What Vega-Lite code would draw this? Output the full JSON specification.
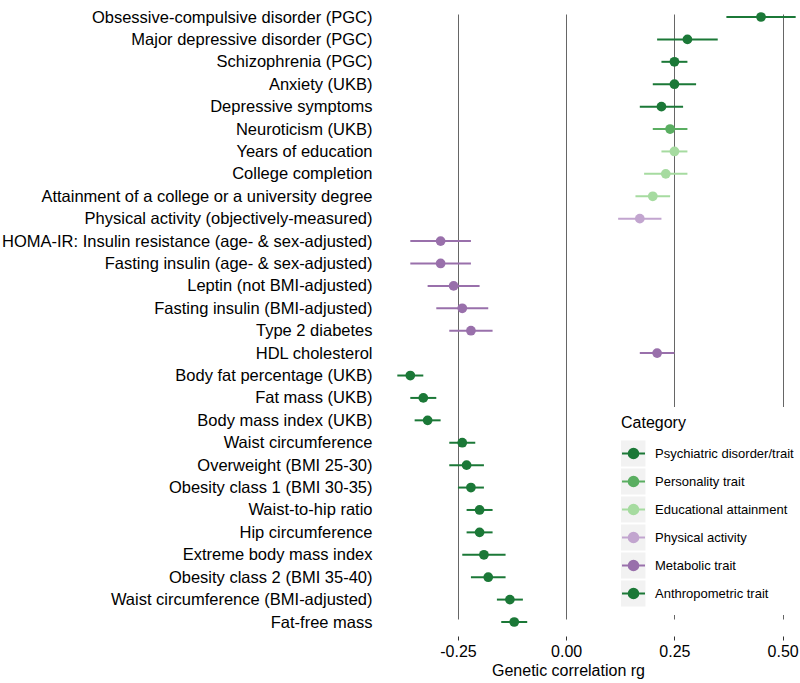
{
  "$schema": "https://vega.github.io/schema/vega-lite/v6.json",
  "width": 420,
  "height": 636,
  "autosize": {"type": "none"},
  "padding": {"left": 380, "top": 0, "right": 0, "bottom": 47},
  "background": "white",
  "config": {"view": {"stroke": null}, "font": "Liberation Sans"},
  "data": {"values": [
    {"trait": "Obsessive-compulsive disorder (PGC)", "category": "Psychiatric disorder/trait", "rg": 0.45, "lo": 0.37, "hi": 0.53},
    {"trait": "Major depressive disorder (PGC)", "category": "Psychiatric disorder/trait", "rg": 0.28, "lo": 0.21, "hi": 0.35},
    {"trait": "Schizophrenia (PGC)", "category": "Psychiatric disorder/trait", "rg": 0.25, "lo": 0.22, "hi": 0.28},
    {"trait": "Anxiety (UKB)", "category": "Psychiatric disorder/trait", "rg": 0.25, "lo": 0.20, "hi": 0.30},
    {"trait": "Depressive symptoms", "category": "Psychiatric disorder/trait", "rg": 0.22, "lo": 0.17, "hi": 0.27},
    {"trait": "Neuroticism (UKB)", "category": "Personality trait", "rg": 0.24, "lo": 0.20, "hi": 0.28},
    {"trait": "Years of education", "category": "Educational attainment", "rg": 0.25, "lo": 0.22, "hi": 0.28},
    {"trait": "College completion", "category": "Educational attainment", "rg": 0.23, "lo": 0.18, "hi": 0.28},
    {"trait": "Attainment of a college or a university degree", "category": "Educational attainment", "rg": 0.20, "lo": 0.16, "hi": 0.24},
    {"trait": "Physical activity (objectively-measured)", "category": "Physical activity", "rg": 0.17, "lo": 0.12, "hi": 0.22},
    {"trait": "HOMA-IR: Insulin resistance (age- & sex-adjusted)", "category": "Metabolic trait", "rg": -0.29, "lo": -0.36, "hi": -0.22},
    {"trait": "Fasting insulin (age- & sex-adjusted)", "category": "Metabolic trait", "rg": -0.29, "lo": -0.36, "hi": -0.22},
    {"trait": "Leptin (not BMI-adjusted)", "category": "Metabolic trait", "rg": -0.26, "lo": -0.32, "hi": -0.20},
    {"trait": "Fasting insulin (BMI-adjusted)", "category": "Metabolic trait", "rg": -0.24, "lo": -0.30, "hi": -0.18},
    {"trait": "Type 2 diabetes", "category": "Metabolic trait", "rg": -0.22, "lo": -0.27, "hi": -0.17},
    {"trait": "HDL cholesterol", "category": "Metabolic trait", "rg": 0.21, "lo": 0.17, "hi": 0.25},
    {"trait": "Body fat percentage (UKB)", "category": "Anthropometric trait", "rg": -0.36, "lo": -0.39, "hi": -0.33},
    {"trait": "Fat mass (UKB)", "category": "Anthropometric trait", "rg": -0.33, "lo": -0.36, "hi": -0.30},
    {"trait": "Body mass index (UKB)", "category": "Anthropometric trait", "rg": -0.32, "lo": -0.35, "hi": -0.29},
    {"trait": "Waist circumference", "category": "Anthropometric trait", "rg": -0.24, "lo": -0.27, "hi": -0.21},
    {"trait": "Overweight (BMI 25-30)", "category": "Anthropometric trait", "rg": -0.23, "lo": -0.27, "hi": -0.19},
    {"trait": "Obesity class 1 (BMI 30-35)", "category": "Anthropometric trait", "rg": -0.22, "lo": -0.25, "hi": -0.19},
    {"trait": "Waist-to-hip ratio", "category": "Anthropometric trait", "rg": -0.20, "lo": -0.23, "hi": -0.17},
    {"trait": "Hip circumference", "category": "Anthropometric trait", "rg": -0.20, "lo": -0.23, "hi": -0.17},
    {"trait": "Extreme body mass index", "category": "Anthropometric trait", "rg": -0.19, "lo": -0.24, "hi": -0.14},
    {"trait": "Obesity class 2 (BMI 35-40)", "category": "Anthropometric trait", "rg": -0.18, "lo": -0.22, "hi": -0.14},
    {"trait": "Waist circumference (BMI-adjusted)", "category": "Anthropometric trait", "rg": -0.13, "lo": -0.16, "hi": -0.10},
    {"trait": "Fat-free mass", "category": "Anthropometric trait", "rg": -0.12, "lo": -0.15, "hi": -0.09}
  ]},
  "encoding": {
    "y": {
      "field": "trait", "type": "nominal", "sort": null,
      "scale": {"type": "point", "range": [17, 622], "padding": 0},
      "axis": {"title": null, "domain": false, "ticks": false, "grid": false, "labelFontSize": 16.5, "labelColor": "black", "labelPadding": 8, "labelLimit": 420}
    }
  },
  "resolve": {"legend": {"color": "independent"}},
  "layer": [
    {
      "mark": {"type": "rule", "strokeWidth": 2},
      "encoding": {
        "x": {
          "field": "lo", "type": "quantitative",
          "scale": {"domain": [-0.43, 0.54], "nice": false, "zero": false},
          "axis": {
            "title": "Genetic correlation rg",
            "values": [-0.25, 0, 0.25, 0.5],
            "labelExpr": "replace(format(datum.value, '.2f'), '\u2212', '-')",
            "grid": true, "gridColor": "#666666", "gridWidth": 1,
            "domain": false, "tickColor": "#333333", "tickSize": 4,
            "labelFontSize": 16, "labelColor": "black", "labelPadding": 3,
            "titleFontSize": 16, "titleFontWeight": "normal", "titleColor": "black",
            "titlePadding": 3, "titleX": 188, "titleAlign": "center"
          }
        },
        "x2": {"field": "hi"},
        "color": {
          "field": "category", "type": "nominal",
          "scale": {
            "domain": ["Psychiatric disorder/trait", "Personality trait", "Educational attainment", "Physical activity", "Metabolic trait", "Anthropometric trait"],
            "range": ["#1b7837", "#5aae61", "#a6dba0", "#c2a5cf", "#9970ab", "#1b7837"]
          },
          "legend": {
            "title": "Category", "orient": "none", "legendX": 233, "legendY": 407,
            "fillColor": "white", "padding": 8,
            "titleFontSize": 16, "titleFontWeight": "normal", "titleColor": "black", "titlePadding": 9,
            "labelFontSize": 13, "labelColor": "black", "labelOffset": 11,
            "symbolType": "M -1.13 -1.13 L 1.13 -1.13 L 1.13 1.13 L -1.13 1.13 Z",
            "symbolSize": 529, "rowPadding": 1, "clipHeight": 27,
            "encode": {
              "symbols": {"update": {
                "fill": {"value": "#f2f2f2"},
                "stroke": {"value": "transparent"},
                "strokeWidth": {"value": 0},
                "opacity": {"value": 1}
              }}
            }
          }
        }
      }
    },
    {
      "mark": {"type": "rule", "strokeWidth": 2, "opacity": 0},
      "encoding": {
        "x": {"field": "lo", "type": "quantitative"},
        "x2": {"field": "hi"},
        "color": {
          "field": "category", "type": "nominal",
          "legend": {
            "title": null, "orient": "none", "legendX": 233, "legendY": 432,
            "padding": 8,
            "labelFontSize": 13, "labelExpr": "''", "labelOffset": 11,
            "symbolType": "M -1 0 L 1 0 M -0.42 0 A 0.42 0.42 0 1 0 0.42 0 A 0.42 0.42 0 1 0 -0.42 0 Z",
            "symbolSize": 529, "rowPadding": 1, "clipHeight": 27,
            "encode": {
              "symbols": {"update": {
                "stroke": {"scale": "color", "field": "value"},
                "fill": {"scale": "color", "field": "value"},
                "strokeWidth": {"value": 2},
                "strokeOpacity": {"value": 1},
                "fillOpacity": {"value": 1},
                "opacity": {"value": 1}
              }}
            }
          }
        }
      }
    },
    {
      "mark": {"type": "point", "filled": true, "opacity": 1, "size": 95},
      "encoding": {
        "x": {"field": "rg", "type": "quantitative"},
        "color": {"field": "category", "type": "nominal", "legend": null}
      }
    }
  ]
}
